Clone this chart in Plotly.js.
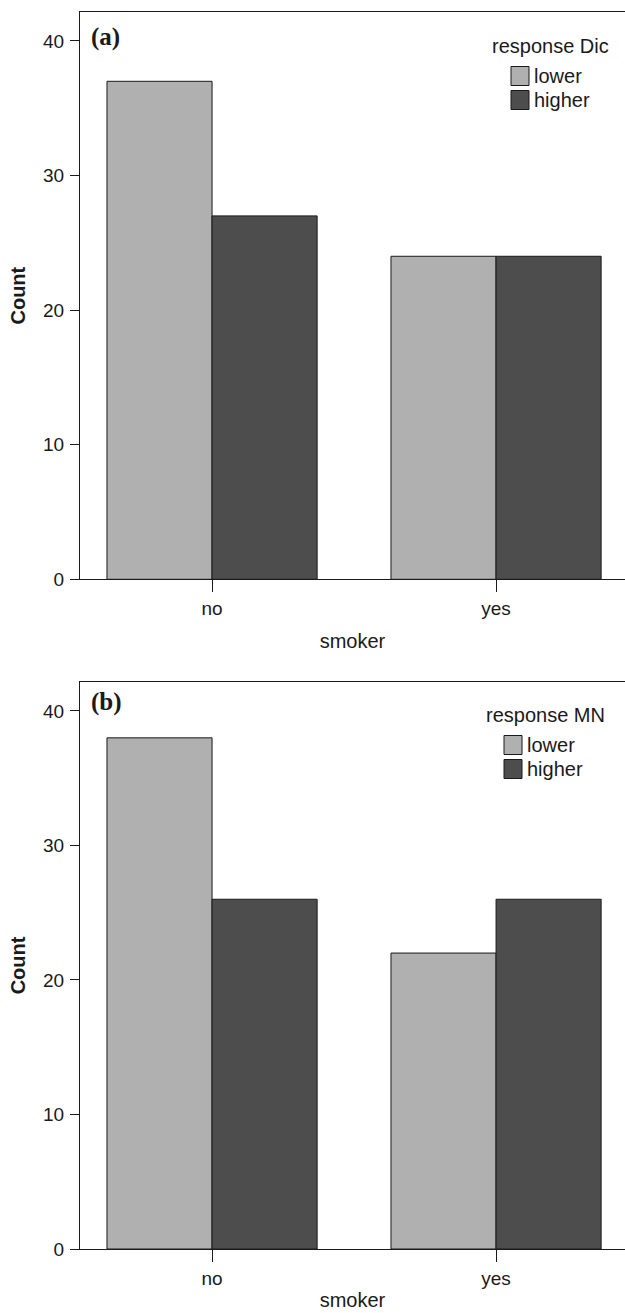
<!DOCTYPE html>
<html>
<head>
<meta charset="utf-8">
<script src="https://cdn.plot.ly/plotly-3.0.1.min.js"></script>
<style>
html,body{margin:0;padding:0;background:#fff;overflow:hidden;}
#chart{width:625px;height:1313px;}
</style>
</head>
<body>
<div id="chart"></div>
<script>
// Data
const categories = ['no', 'yes'];
const seriesNames = ['lower', 'higher'];
const dicLower = [37, 24];
const dicHigher = [27, 24];
const mnLower = [38, 22];
const mnHigher = [26, 26];
const yTicks = [0, 10, 20, 30, 40];
const panelLabels = ['(a)', '(b)'];
const legendTitles = ['response Dic', 'response MN'];
const xTitle = 'smoker';
const yTitle = 'Count';

const seriesColors = ['#b0b0b0', '#4d4d4d'];
const ink = '#1a1a1a';
const fontFam = 'Liberation Sans, Arial, sans-serif';

const W = 625, H = 1313;
const M = {l: 80, r: 0, t: 12, b: 64};
const PW = W - M.l - M.r, PH = H - M.t - M.b;
function px2x(px) { return (px - M.l) / PW; }
function py2y(py) { return (H - M.b - py) / PH; }

function bar(y, idx, xa, ya) {
  return {
    type: 'bar', x: categories, y: y, name: seriesNames[idx],
    xaxis: xa, yaxis: ya, showlegend: false,
    marker: {color: seriesColors[idx], line: {color: ink, width: 1}},
    hoverinfo: 'x+y+name'
  };
}

const data = [
  bar(dicLower, 0, 'x', 'y'),
  bar(dicHigher, 1, 'x', 'y'),
  bar(mnLower, 0, 'x2', 'y2'),
  bar(mnHigher, 1, 'x2', 'y2')
];

const xRange = [-0.465, 1.454];
function xaxis(anchor, standoff) {
  return {
    anchor: anchor, type: 'category', range: xRange,
    showline: true, linecolor: ink, linewidth: 1, mirror: true,
    ticks: 'outside', ticklen: 12, tickcolor: ink, tickwidth: 1,
    showgrid: false, zeroline: false,
    tickfont: {family: fontFam, size: 19, color: ink},
    title: {text: xTitle, font: {family: fontFam, size: 20, color: ink}, standoff: standoff}
  };
}
function yaxis(anchor, domain) {
  return {
    anchor: anchor, domain: domain, range: [0, 42.15],
    showline: true, linecolor: ink, linewidth: 1,
    ticks: 'outside', ticklen: 9, tickcolor: ink, tickwidth: 1,
    tickvals: yTicks, ticktext: yTicks.map(String),
    ticklabelstandoff: 2,
    showgrid: false, zeroline: false,
    tickfont: {family: fontFam, size: 19, color: ink},
    title: {text: '<b>' + yTitle + '</b>', font: {family: fontFam, size: 20, color: ink}, standoff: 12}
  };
}

// custom legends (larger swatches like the reference)
const shapes = [];
const annotations = [];
function addLegend(title, titleCx, titleCy, sqLeft, firstCy) {
  annotations.push({text: title, xref: 'paper', yref: 'paper', x: px2x(titleCx), y: py2y(titleCy),
    xanchor: 'center', yanchor: 'middle', showarrow: false,
    font: {family: fontFam, size: 20, color: ink}});
  seriesNames.forEach((nm, i) => {
    const cy = firstCy + i * 24;
    shapes.push({type: 'rect', xref: 'paper', yref: 'paper',
      x0: px2x(sqLeft), x1: px2x(sqLeft + 18), y0: py2y(cy + 9.5), y1: py2y(cy - 9.5),
      fillcolor: seriesColors[i], line: {color: ink, width: 1}});
    annotations.push({text: nm, xref: 'paper', yref: 'paper', x: px2x(sqLeft + 21), y: py2y(cy),
      xanchor: 'left', yanchor: 'middle', showarrow: false,
      font: {family: fontFam, size: 20, color: ink}});
  });
}
addLegend(legendTitles[0], 550, 46, 511, 76);
addLegend(legendTitles[1], 545, 715, 504, 745);

annotations.push({text: '<b>' + panelLabels[0] + '</b>', xref: 'paper', yref: 'paper', x: px2x(89), y: py2y(37),
  xanchor: 'left', yanchor: 'middle', showarrow: false,
  font: {family: 'Liberation Serif, Times New Roman, serif', size: 25, color: ink}});
annotations.push({text: '<b>' + panelLabels[1] + '</b>', xref: 'paper', yref: 'paper', x: px2x(89), y: py2y(702),
  xanchor: 'left', yanchor: 'middle', showarrow: false,
  font: {family: 'Liberation Serif, Times New Roman, serif', size: 25, color: ink}});

const layout = {
  width: W, height: H,
  margin: M,
  paper_bgcolor: '#fff', plot_bgcolor: '#fff',
  barmode: 'group', bargap: 0.26, bargroupgap: 0,
  showlegend: false,
  xaxis: xaxis('y', 15),
  yaxis: yaxis('x', [py2y(579.3), 1]),
  xaxis2: xaxis('y2', 5),
  yaxis2: yaxis('x2', [0, py2y(682)]),
  shapes: shapes,
  annotations: annotations
};

Plotly.newPlot('chart', data, layout, {displayModeBar: false, staticPlot: true});
</script>
</body>
</html>
